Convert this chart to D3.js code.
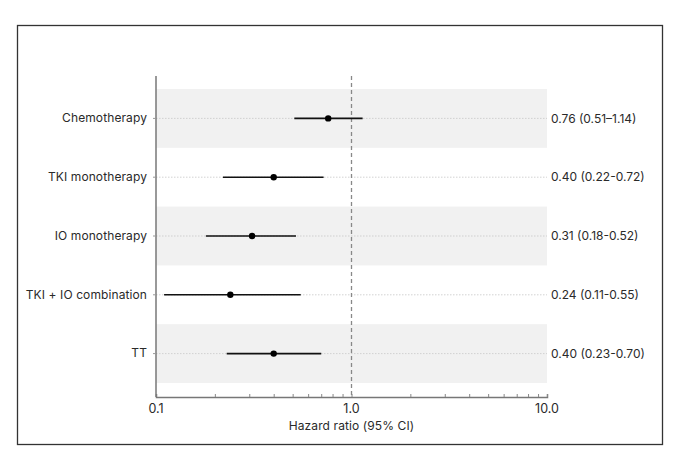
<!DOCTYPE html>
<html>
<head>
<meta charset="utf-8">
<script src="https://cdn.jsdelivr.net/npm/d3@7"></script>
<style>
  body { margin: 0; background: #fff; }
  text { font-family: Inter, "Liberation Sans", sans-serif; fill: #2a2a2a; }
</style>
</head>
<body>
<div id="plot"></div>
<script>
var width = 680;
var height = 458;

// data
var treatments = ['Chemotherapy', 'TKI monotherapy', 'IO monotherapy', 'TKI + IO combination', 'TT'];
var hr = [0.76, 0.40, 0.31, 0.24, 0.40];
var lower = [0.51, 0.22, 0.18, 0.11, 0.23];
var upper = [1.14, 0.72, 0.52, 0.55, 0.70];
var hrLabels = ['0.76 (0.51\u20131.14)', '0.40 (0.22-0.72)', '0.31 (0.18-0.52)', '0.24 (0.11-0.55)', '0.40 (0.23-0.70)'];
var xTicks = [0.1, 1, 10];

var canvas = d3.select('#plot')
    .append('svg')
    .attr('width', width)
    .attr('height', height);

// outer frame
canvas.append('rect')
    .attr('x', 17.5).attr('y', 25.5)
    .attr('width', 645).attr('height', 419)
    .attr('fill', 'none')
    .attr('stroke', '#333')
    .attr('stroke-width', 1.3);

var x = d3.scaleLog()
    .domain([0.1, 10])
    .range([156, 547]);

var y = d3.scaleBand()
    .domain(treatments)
    .range([89, 383]);

var axisY = 397;

// shaded bands on alternate rows
canvas.selectAll('rect.band')
    .data(treatments.filter(function(d, i) { return i % 2 === 0; }))
    .enter()
    .append('rect')
    .attr('class', 'band')
    .attr('x', x(0.1))
    .attr('y', function(d) { return y(d); })
    .attr('width', x(10) - x(0.1))
    .attr('height', y.bandwidth())
    .attr('fill', '#f1f1f1');

// dotted row lines
canvas.selectAll('line.row')
    .data(treatments)
    .enter()
    .append('line')
    .attr('class', 'row')
    .attr('x1', x(0.1))
    .attr('x2', x(10))
    .attr('y1', function(d) { return y(d) + y.bandwidth() / 2; })
    .attr('y2', function(d) { return y(d) + y.bandwidth() / 2; })
    .attr('stroke', '#c8c8c8')
    .attr('stroke-width', 0.8)
    .attr('stroke-dasharray', '1.5,1.5');

// reference line at HR = 1
canvas.append('line')
    .attr('x1', x(1)).attr('x2', x(1))
    .attr('y1', 76).attr('y2', axisY)
    .attr('stroke', '#888')
    .attr('stroke-width', 1.3)
    .attr('stroke-dasharray', '4,3');

// x axis (log, minor ticks inside)
var xAxis = d3.axisBottom(x)
    .tickValues(x.ticks())
    .tickSize(-3)
    .tickFormat('');
var gx = canvas.append('g')
    .attr('transform', 'translate(0,' + axisY + ')')
    .call(xAxis);
gx.select('.domain').attr('stroke', '#777').attr('stroke-width', 1.5);
gx.selectAll('.tick line').attr('stroke', '#888');

canvas.selectAll('text.xtick')
    .data(xTicks)
    .enter()
    .append('text')
    .attr('class', 'xtick')
    .attr('x', function(d) { return x(d); })
    .attr('y', 413)
    .attr('text-anchor', 'middle')
    .attr('font-size', 12.5)
    .text(function(d) { return d3.format('.1f')(d); });

canvas.append('text')
    .attr('x', x(1))
    .attr('y', 430)
    .attr('text-anchor', 'middle')
    .attr('font-size', 12)
    .attr('letter-spacing', 0.1)
    .text('Hazard ratio (95% CI)');

// y axis
var yAxis = d3.axisLeft(y).tickSize(3).tickPadding(6);
var gy = canvas.append('g')
    .attr('transform', 'translate(' + x(0.1) + ',0)')
    .call(yAxis);
gy.select('.domain').attr('d', 'M0,76V' + axisY).attr('stroke', '#777').attr('stroke-width', 1.5);
gy.selectAll('.tick line').attr('stroke', '#999');
gy.selectAll('.tick text')
    .attr('font-family', 'Inter, "Liberation Sans", sans-serif')
    .attr('font-size', 12)
    .attr('letter-spacing', 0.1)
    .attr('fill', '#2a2a2a');

// confidence intervals
canvas.selectAll('line.ci')
    .data(treatments)
    .enter()
    .append('line')
    .attr('class', 'ci')
    .attr('x1', function(d, i) { return x(lower[i]); })
    .attr('x2', function(d, i) { return x(upper[i]); })
    .attr('y1', function(d) { return y(d) + y.bandwidth() / 2; })
    .attr('y2', function(d) { return y(d) + y.bandwidth() / 2; })
    .attr('stroke', '#111')
    .attr('stroke-width', 1.6);

// point estimates
canvas.selectAll('circle.hr')
    .data(treatments)
    .enter()
    .append('circle')
    .attr('class', 'hr')
    .attr('cx', function(d, i) { return x(hr[i]); })
    .attr('cy', function(d) { return y(d) + y.bandwidth() / 2; })
    .attr('r', 3.2)
    .attr('fill', '#000');

// HR (95% CI) labels on the right
canvas.selectAll('text.hr')
    .data(treatments)
    .enter()
    .append('text')
    .attr('class', 'hr')
    .attr('x', 551)
    .attr('y', function(d) { return y(d) + y.bandwidth() / 2; })
    .attr('dy', '0.35em')
    .attr('font-size', 12)
    .text(function(d, i) { return hrLabels[i]; });
</script>
</body>
</html>
